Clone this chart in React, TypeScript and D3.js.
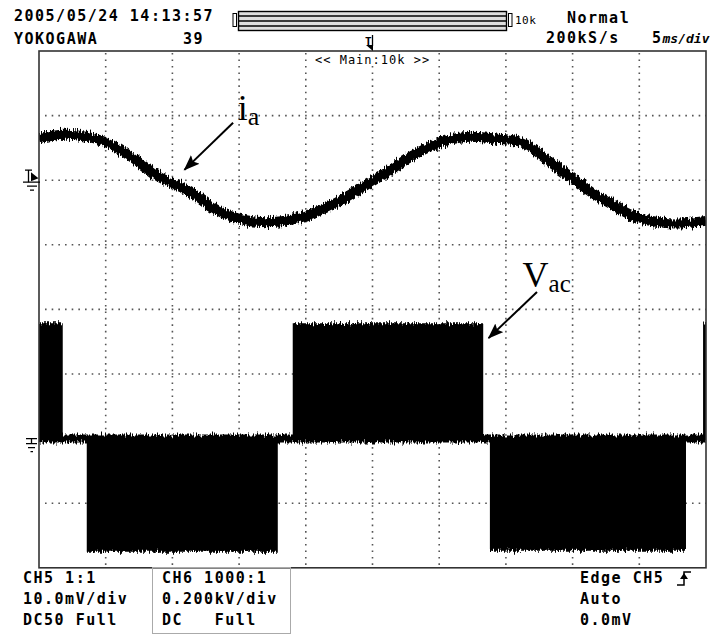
import React from 'react';
import * as d3 from 'd3';

// ---- data (ms, mV) for CH5 current trace ia ----
const iaTime = [0, 1.5, 3, 5, 7, 9, 10, 11, 12, 13, 14, 15.5, 17, 18, 19, 20, 22, 24, 26, 28, 30, 32, 34, 36, 37, 38, 40, 41.5, 43, 44, 45, 46.5, 48, 50];
const iaValue = [6.5, 7.0, 6.9, 5.9, 3.5, 0.5, -0.4, -1.5, -2.7, -4.2, -5.3, -6.2, -6.5, -6.4, -6.1, -5.5, -3.8, -1.4, 1.1, 3.8, 5.8, 6.7, 6.5, 6.0, 4.9, 3.3, 0.3, -2.0, -3.8, -5.0, -5.9, -6.5, -6.7, -6.3];

// ---- data (ms, V) for CH6 voltage Vac: segment edges and levels ----
const vacEdges = [0, 1.78, 3.58, 17.9, 19.02, 33.3, 33.8, 48.5, 49.78, 50];
const vacLevels = [345, 0, -338, 0, 345, 0, -335, 0, 350];
const vacBand = 12.4; // PWM ripple half-width at zero level (V)

// ---- axes ----
const timeTicks = [5, 10, 15, 20, 25, 30, 35, 40, 45];
const ch5Ticks = [-50, -40, -30, -20, -10, 0, 10];

// ---- texts ----
const headerDate = '2005/05/24 14:13:57';
const headerMaker = 'YOKOGAWA';
const headerCount = '39';
const headerMode = 'Normal';
const headerRate = '200kS/s';
const headerDiv = ['5', 'ms/div'];
const headerRecord = '10k';
const mainLabel = '<< Main:10k >>';
const ch5Lines = ['CH5 1:1', '10.0mV/div', 'DC50 Full'];
const ch6Lines = ['CH6 1000:1', '0.200kV/div', 'DC   Full'];
const trigLines = ['Edge CH5', 'Auto', '0.0mV'];

const mono: React.CSSProperties = {
  fontFamily: "'DejaVu Sans Mono', monospace",
  fontWeight: 'bold',
  fontSize: 15,
  letterSpacing: 1.5,
};
const serif = "'Liberation Serif', 'Times New Roman', serif";

export default function App() {
  const X0 = 39, X1 = 706, Y0 = 51, Y1 = 567.8;
  const x = d3.scaleLinear().domain([0, 50]).range([X0, X1]);
  const yI = d3.scaleLinear().domain([-60, 20]).range([Y1, Y0]);
  const yV = d3.scaleLinear().domain([-400, 1200]).range([Y1, Y0]);

  const iaLine = d3
    .line<number>()
    .x((_, i) => x(iaTime[i]))
    .y((d) => yI(d))
    .curve(d3.curveCatmullRom.alpha(0.5));

  const vacPts: { t: number; lo: number; hi: number }[] = [];
  vacLevels.forEach((L, i) => {
    const lo = Math.min(L, 0) - vacBand;
    const hi = Math.max(L, 0) + vacBand;
    vacPts.push({ t: vacEdges[i], lo, hi });
    vacPts.push({ t: vacEdges[i + 1], lo, hi });
  });
  const vacArea = d3
    .area<{ t: number; lo: number; hi: number }>()
    .x((d) => x(d.t))
    .y0((d) => yV(d.lo))
    .y1((d) => yV(d.hi));

  const divY = (Y1 - Y0) / 8;
  const divX = (X1 - X0) / 10;

  // annotation anchors in data units
  const iaArrow = { t0: 14.55, v0: 8.9, t1: 10.9, v1: 1.6 };
  const vacArrow = { t0: 37.33, v0: 454, t1: 33.7, v1: 311 };

  return (
    <svg
      width={710}
      height={636}
      style={{ position: 'fixed', left: 0, top: 0, background: '#fff' }}
    >
      <defs>
        <filter id="rough" filterUnits="userSpaceOnUse" x={0} y={0} width={710} height={636} colorInterpolationFilters="sRGB">
          <feTurbulence type="fractalNoise" baseFrequency="0.75 0.12" numOctaves={2} seed={4} result="n" />
          <feColorMatrix in="n" type="matrix" values="0 0 0 0 0.5  1 0 0 0 0  0 0 0 0 0  0 0 0 0 1" result="m" />
          <feDisplacementMap in="SourceGraphic" in2="m" scale={10} xChannelSelector="R" yChannelSelector="G" />
        </filter>
        <clipPath id="frame">
          <rect x={X0} y={Y0} width={X1 - X0} height={Y1 - Y0} />
        </clipPath>
        <marker id="ah" markerUnits="userSpaceOnUse" markerWidth={18} markerHeight={14} refX={15} refY={6} orient="auto">
          <path d="M0,0 L16,6 L0,12 L3,6 Z" fill="#000" />
        </marker>
      </defs>

      <rect x={0} y={0} width={710} height={636} fill="#fff" />

      {/* grid */}
      <g stroke="#555" strokeWidth={1.6}>
        {timeTicks.map((t) => (
          <line key={'v' + t} x1={x(t)} x2={x(t)} y1={Y0 + 2} y2={Y1} strokeDasharray={`1.6 ${divY / 10 - 1.6}`} />
        ))}
        {ch5Ticks.map((v) => (
          <line key={'h' + v} x1={X0 + 6} x2={X1} y1={yI(v)} y2={yI(v)} strokeDasharray={`1.6 ${divX / 10 - 1.6}`} />
        ))}
      </g>

      {/* traces */}
      <g clipPath="url(#frame)">
        <g filter="url(#rough)">
          <path d={iaLine(iaValue) || ''} fill="none" stroke="#000" strokeWidth={10} />
          <path d={vacArea(vacPts) || ''} fill="#000" />
        </g>
      </g>

      {/* main label */}
      <rect x={313} y={53} width={119} height={13} fill="#fff" />
      <text x={315} y={64} style={{ fontFamily: "'DejaVu Sans Mono', monospace", fontSize: 12, letterSpacing: 1 }}>
        {mainLabel}
      </text>

      {/* frame */}
      <rect x={X0} y={Y0} width={X1 - X0} height={Y1 - Y0} fill="none" stroke="#333" strokeWidth={1.6} />

      {/* ground markers */}
      <g stroke="#000" strokeWidth={1.3} fill="none">
        <path d={`M25,${yI(0) - 10} H32 M28.5,${yI(0) - 10} V${yI(0) + 2}`} />
        <path d={`M23,${yI(0) + 2} H40 M27,${yI(0) + 6} H37 M30,${yI(0) + 10} H34`} />
        <path d={`M26,${yV(0)} H37 M31.5,${yV(0)} V${yV(0) + 5}`} />
        <path d={`M26,${yV(0) + 5} H37 M28,${yV(0) + 9} H35 M30.5,${yV(0) + 13} H33`} />
      </g>
      <path d={`M31,${yI(0) - 8} L38.5,${yI(0) - 2} L31,${yI(0) + 1} Z`} fill="#000" />

      {/* annotations */}
      <line x1={x(iaArrow.t0)} y1={yI(iaArrow.v0)} x2={x(iaArrow.t1)} y2={yI(iaArrow.v1)} stroke="#000" strokeWidth={2} markerEnd="url(#ah)" />
      <text x={x(14.9)} y={yI(9.3)} style={{ fontFamily: serif, fontSize: 36 }}>
        i
        <tspan dy={5} style={{ fontSize: 26 }}>a</tspan>
      </text>
      <line x1={x(vacArrow.t0)} y1={yV(vacArrow.v0)} x2={x(vacArrow.t1)} y2={yV(vacArrow.v1)} stroke="#000" strokeWidth={2} markerEnd="url(#ah)" />
      <text x={x(36.25)} y={yV(469)} style={{ fontFamily: serif, fontSize: 36 }}>
        V
        <tspan dy={5} style={{ fontSize: 25 }}>ac</tspan>
      </text>

      {/* header */}
      <text x={14} y={21} style={mono}>{headerDate}</text>
      <text x={14} y={44} style={mono}>{headerMaker}</text>
      <text x={183} y={44} style={mono}>{headerCount}</text>
      <text x={567} y={23} style={mono}>{headerMode}</text>
      <text x={546} y={43} style={mono}>{headerRate}</text>
      <text x={652} y={43} style={mono}>
        {headerDiv[0]}
        <tspan style={{ fontSize: 13, fontStyle: 'italic', letterSpacing: 0 }}>{headerDiv[1]}</tspan>
      </text>

      {/* record bar */}
      <rect x={233} y={13.5} width={3.5} height={13} fill="#fff" stroke="#000" strokeWidth={1} />
      <rect x={238.5} y={11.5} width={268} height={19} fill="#ddd" stroke="#000" strokeWidth={1.4} />
      <g stroke="#000" strokeWidth={1.3}>
        <line x1={238.5} x2={506.5} y1={16} y2={16} />
        <line x1={238.5} x2={506.5} y1={21} y2={21} />
        <line x1={238.5} x2={506.5} y1={26} y2={26} />
      </g>
      <rect x={508.5} y={13.5} width={3.5} height={13} fill="#fff" stroke="#000" strokeWidth={1} />
      <text x={515} y={24} style={{ fontFamily: "'DejaVu Sans Mono', monospace", fontSize: 11, letterSpacing: 0.5 }}>
        {headerRecord}
      </text>
      <text x={365} y={45} style={{ fontFamily: "'DejaVu Sans Mono', monospace", fontWeight: 'bold', fontSize: 11 }}>T</text>
      <line x1={372.5} x2={372.5} y1={35} y2={46} stroke="#000" strokeWidth={1.3} />
      <path d="M366,45 L373,45 L373,51 Z" fill="#000" />

      {/* footer */}
      <rect x={152.5} y={567.5} width={138} height={66} fill="none" stroke="#aaa" strokeWidth={1} />
      {ch5Lines.map((s, i) => (
        <text key={'c5' + i} x={23} y={583 + i * 21} style={mono} xmlSpace="preserve">{s}</text>
      ))}
      {ch6Lines.map((s, i) => (
        <text key={'c6' + i} x={162} y={583 + i * 21} style={mono} xmlSpace="preserve">{s}</text>
      ))}
      {trigLines.map((s, i) => (
        <text key={'tr' + i} x={580} y={583 + i * 21} style={mono}>{s}</text>
      ))}
      <g stroke="#000" strokeWidth={1.5} fill="none">
        <path d="M677,585 H684 V572 H691" />
      </g>
      <path d="M680,579 L684,573 L688,579 Z" fill="#000" />
    </svg>
  );
}
